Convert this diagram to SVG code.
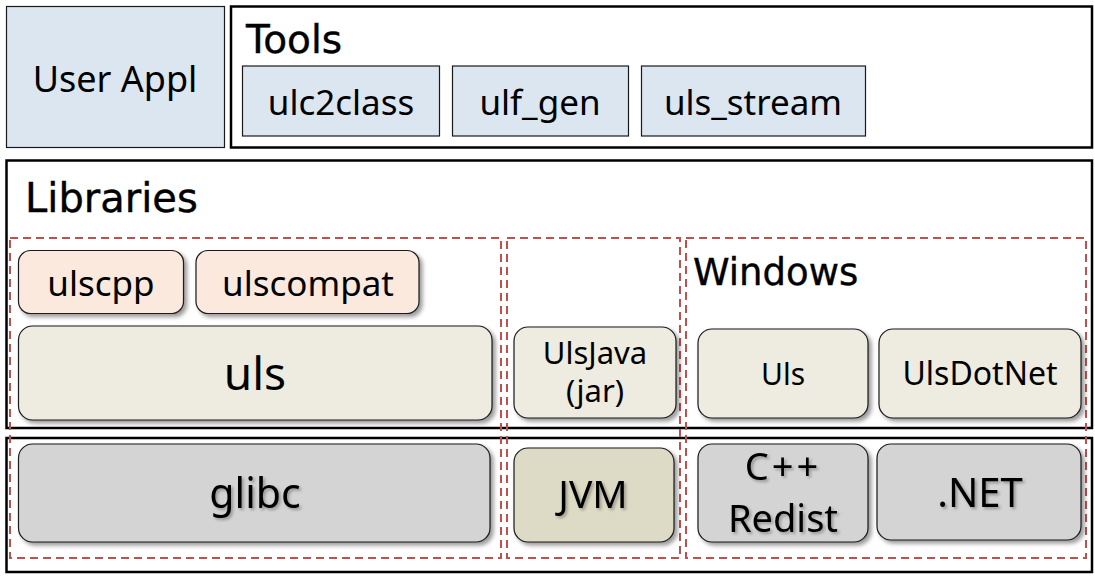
<svg xmlns="http://www.w3.org/2000/svg" width="1095" height="582" viewBox="0 0 1095 582">
<style>
.frame{fill:#fff;stroke:#000;stroke-width:2.5}
.sq{fill:#dce6f1;stroke:#1a1a1a;stroke-width:1.2}
.rb{stroke:#1a1a1a;stroke-width:1.2;filter:url(#sh)}
.peach{fill:#fbe9dd}
.cream{fill:#eeebe0}
.gray{fill:#d4d4d4}
.olive{fill:#dddac5}
.dash{fill:none;stroke:#c0504d;stroke-width:2;stroke-dasharray:8 5}
.t{font-family:"Noto Sans","Open Sans",sans-serif;fill:#000;text-anchor:middle}
.ts{filter:url(#tsh)}
.title{font-family:"DejaVu Sans","Lato",sans-serif;fill:#000;stroke:#000;stroke-width:0.4}
</style>
<defs>
<filter id="sh" x="-10%" y="-10%" width="125%" height="135%">
<feDropShadow dx="3" dy="3" stdDeviation="2" flood-color="#000" flood-opacity="0.4"/>
</filter>
<filter id="tsh" x="-10%" y="-20%" width="130%" height="150%">
<feDropShadow dx="2" dy="2" stdDeviation="1.5" flood-color="#000" flood-opacity="0.3"/>
</filter>
</defs>
<rect width="1095" height="582" fill="#fff"/>

<g id="user-appl">
<rect class="sq" x="6.5" y="6.5" width="218" height="141"/>
<text class="t" x="115" y="92" font-size="36">User Appl</text>
</g>

<g id="tools">
<rect class="frame" x="231" y="6.5" width="861" height="141"/>
<text class="title" x="246" y="53" font-size="39">Tools</text>
</g>
<g id="ulc2class">
<rect class="sq" x="242.5" y="66" width="197" height="70"/>
<text class="t" x="341" y="115" font-size="35">ulc2class</text>
</g>
<g id="ulf_gen">
<rect class="sq" x="452.5" y="66" width="176" height="70"/>
<text class="t" x="540" y="115" font-size="35">ulf_gen</text>
</g>
<g id="uls_stream">
<rect class="sq" x="641.5" y="66" width="224" height="70"/>
<text class="t" x="753" y="115" font-size="35">uls_stream</text>
</g>

<g id="libraries">
<rect class="frame" x="6.5" y="160.5" width="1085.5" height="267.5"/>
<text class="title" x="25" y="212" font-size="40">Libraries</text>
</g>
<g id="system">
<rect class="frame" x="6.5" y="438" width="1085.5" height="134"/>
</g>

<g id="linux-group">
<rect class="dash" x="10" y="238" width="491" height="320"/>
</g>
<g id="java-group">
<rect class="dash" x="507" y="238" width="173" height="320"/>
</g>
<g id="windows-group">
<rect class="dash" x="686" y="238" width="400" height="320"/>
<text class="title" x="693" y="285" font-size="37">Windows</text>
</g>

<g id="ulscpp">
<rect class="rb peach" x="18.5" y="250.5" width="165" height="63" rx="12"/>
<text class="t" x="101" y="296" font-size="35">ulscpp</text>
</g>
<g id="ulscompat">
<rect class="rb peach" x="196" y="250.5" width="223" height="63" rx="12"/>
<text class="t" x="308" y="296" font-size="35">ulscompat</text>
</g>
<g id="uls">
<rect class="rb cream" x="18.5" y="326" width="473.5" height="94" rx="14"/>
<text class="t" x="255" y="390" font-size="46">uls</text>
</g>
<g id="ulsjava">
<rect class="rb cream" x="514" y="327" width="162" height="91" rx="14"/>
<text class="t" x="595" y="364" font-size="31">UlsJava</text>
<text class="t" x="595" y="402" font-size="31">(jar)</text>
</g>
<g id="uls-win">
<rect class="rb cream" x="698" y="329" width="170" height="89" rx="14"/>
<text class="t" x="783" y="385" font-size="30">Uls</text>
</g>
<g id="ulsdotnet">
<rect class="rb cream" x="879" y="329" width="202" height="89" rx="14"/>
<text class="t" x="980" y="385" font-size="32">UlsDotNet</text>
</g>

<g id="glibc">
<rect class="rb gray" x="18.5" y="444" width="471.5" height="98" rx="14"/>
<text class="t ts" x="255" y="508" font-size="41">glibc</text>
</g>
<g id="jvm">
<rect class="rb olive" x="514" y="448" width="160" height="94" rx="14"/>
<text class="t ts" x="593" y="508" font-size="39">JVM</text>
</g>
<g id="cpp-redist">
<rect class="rb gray" x="698" y="444" width="170" height="98" rx="14"/>
<text class="t ts" x="783" y="480" font-size="38" letter-spacing="3">C++</text>
<text class="t ts" x="783" y="532" font-size="38">Redist</text>
</g>
<g id="dotnet">
<rect class="rb gray" x="877" y="444" width="204" height="96" rx="14"/>
<text class="t ts" x="980" y="507" font-size="40">.NET</text>
</g>

<g id="connectors"></g>
</svg>
